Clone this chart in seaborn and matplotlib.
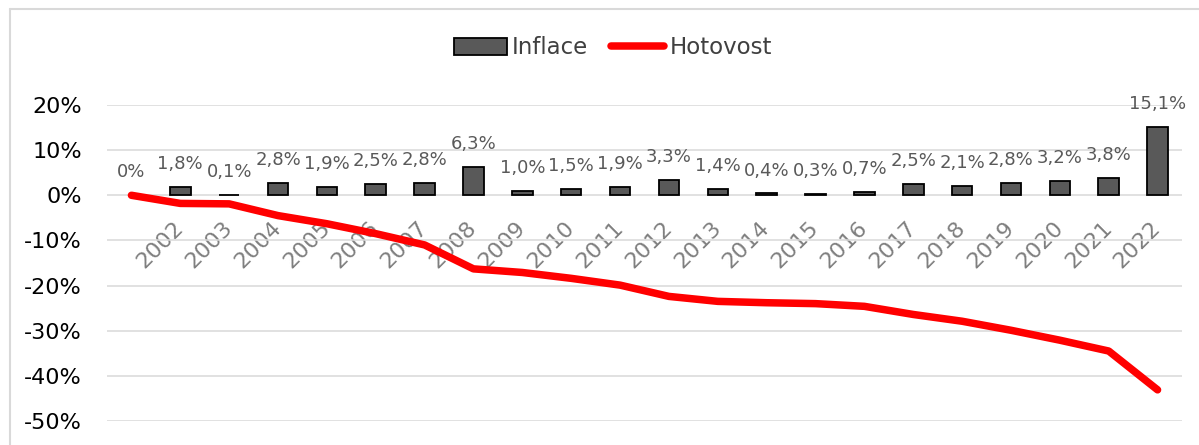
import numpy as np
import pandas as pd
import matplotlib
matplotlib.use("Agg")
import matplotlib.pyplot as plt
from matplotlib.patches import Patch
from matplotlib.lines import Line2D
import seaborn as sns

years = ["2001", "2002", "2003", "2004", "2005", "2006", "2007", "2008", "2009", "2010", "2011",
         "2012", "2013", "2014", "2015", "2016", "2017", "2018", "2019", "2020", "2021", "2022"]
tick_labels = [""] + years[1:]
inflace = [0.0, 1.8, 0.1, 2.8, 1.9, 2.5, 2.8, 6.3, 1.0, 1.5, 1.9,
           3.3, 1.4, 0.4, 0.3, 0.7, 2.5, 2.1, 2.8, 3.2, 3.8, 15.1]
hotovost = [0.0, -1.8, -1.9, -4.5, -6.3, -8.5, -11.0, -16.3, -17.1, -18.4, -19.9,
            -22.4, -23.5, -23.8, -24.0, -24.6, -26.4, -27.9, -29.9, -32.1, -34.5, -43.1]
y_ticks = [-50, -40, -30, -20, -10, 0, 10, 20]

sns.set_theme(style="white")
plt.rcParams['font.family'] = ['DejaVu Sans']

W, H = 1199, 445
fig = plt.figure(figsize=(W / 100, H / 100), dpi=100)
ax = fig.add_axes([107 / W, 1 - 421 / H, (1182 - 107) / W, (421 - 105) / H])

df = pd.DataFrame({"rok": years, "Inflace": inflace, "Hotovost": hotovost,
                   "pos": np.arange(len(years))})

bar_color = "#595959"
sns.barplot(data=df, x="rok", y="Inflace", ax=ax, color=bar_color, edgecolor="black",
            linewidth=1.3, width=0.42, saturation=1, zorder=1.5)
for p in ax.patches:
    if p.get_height() == 0:
        p.set_visible(False)
sns.lineplot(data=df, x="pos", y="Hotovost", ax=ax, color="#ff0000", linewidth=5.4,
             solid_capstyle="round", solid_joinstyle="round", zorder=2)

for i, v in enumerate(inflace):
    txt = "0%" if v == 0 else f"{v:.1f}".replace(".", ",") + "%"
    ax.annotate(txt, xy=(i, v), xytext=(0, 16.5), textcoords="offset points",
                ha="center", va="center", fontsize=13, color="#595959",
                annotation_clip=False)

ax.spines["bottom"].set_position(("data", 0))
for s in ax.spines.values():
    s.set_visible(False)

ax.set_xlim(-0.5, len(years) - 0.5)
ax.set_ylim(-50, 20)
ax.set_yticks(y_ticks)
ax.set_yticklabels([f"{t}%" for t in y_ticks], fontsize=16, color="black")
ax.set_xticks(np.arange(len(years)))
ax.set_xticklabels(tick_labels, rotation=45, ha="right", va="center",
                   rotation_mode="anchor", fontsize=16, color="#7f7f7f")
ax.set_xlabel("")
ax.set_ylabel("")

ax.tick_params(axis="x", length=0, pad=21)
ax.tick_params(axis="y", length=0, pad=18)
ax.yaxis.grid(True, color="#d9d9d9", linewidth=1.1)
ax.xaxis.grid(False)
ax.set_axisbelow(True)
if ax.get_legend() is not None:
    ax.get_legend().remove()

handles = [Patch(facecolor=bar_color, edgecolor="black", linewidth=1.3, label="Inflace"),
           Line2D([0], [0], color="#ff0000", linewidth=5.4, solid_capstyle="round", label="Hotovost")]
fig.legend(handles=handles, loc="center", bbox_to_anchor=(613 / W, 1 - 48 / H), ncol=2,
           frameon=False, fontsize=16.5, handlelength=2.3, handleheight=0.8,
           handletextpad=0.25, columnspacing=1.0, labelcolor="#404040")

# chart-area border (only top and left edges visible in the crop)
fig.add_artist(Line2D([9.5 / W, 9.5 / W], [0, 1 - 8.5 / H], transform=fig.transFigure,
                      color="#d9d9d9", linewidth=1.5))
fig.add_artist(Line2D([9.5 / W, 1], [1 - 8.5 / H, 1 - 8.5 / H], transform=fig.transFigure,
                      color="#d9d9d9", linewidth=1.5))

fig.savefig("out.png", dpi=100)
